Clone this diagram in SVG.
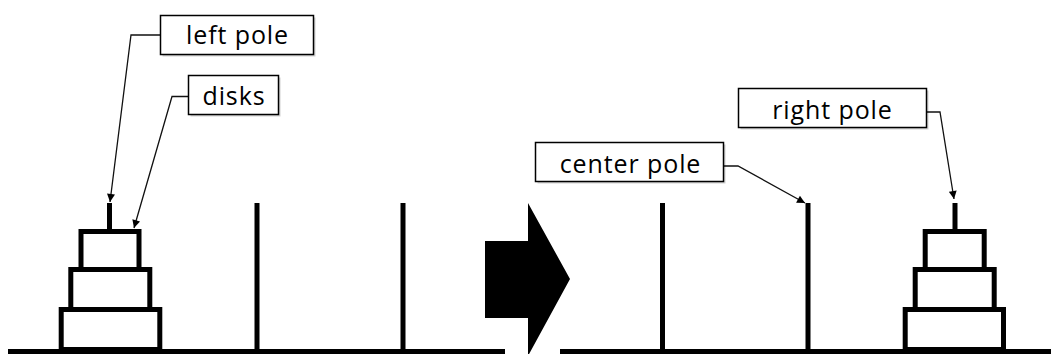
<svg xmlns="http://www.w3.org/2000/svg" width="1051" height="354" viewBox="0 0 1051 354">
<style>
.box{fill:#fff;stroke:#000;stroke-width:1.5}
.shadow{fill:#000;opacity:0.18}
.lbl{font-family:"Open Sans","Liberation Sans",sans-serif;font-size:25px;letter-spacing:0.9px;fill:#000;text-anchor:middle}
.pole{stroke:#000;stroke-width:5;fill:none}
.disk{fill:#fff;stroke:#000;stroke-width:5}
.conn{fill:none;stroke:#111;stroke-width:1.3;marker-end:url(#ah)}
</style>
<defs>
<marker id="ah" viewBox="0 0 10 10" refX="10" refY="5" markerWidth="9" markerHeight="8" markerUnits="userSpaceOnUse" orient="auto">
<path d="M0,0 L10,5 L0,10 z" fill="#000"/>
</marker>
</defs>
<g id="ground">
<rect x="8" y="349" width="497" height="5" fill="#000"/>
<rect x="560" y="349" width="491" height="5" fill="#000"/>
</g>
<g id="left-tower">
<line class="pole" x1="109.5" y1="203" x2="109.5" y2="232"/>
<rect class="disk" x="61.2" y="309.5" width="98.6" height="40"/>
<rect class="disk" x="70.8" y="269.5" width="79" height="40"/>
<rect class="disk" x="81" y="231.5" width="58" height="38"/>
</g>
<g id="left-poles">
<line class="pole" x1="257" y1="203" x2="257" y2="350"/>
<line class="pole" x1="403" y1="203" x2="403" y2="350"/>
</g>
<g id="arrow">
<polygon points="485,241 528,241 528,203 570,279 528,356 528,318 485,318" fill="#000"/>
</g>
<g id="right-poles">
<line class="pole" x1="662.5" y1="203" x2="662.5" y2="350"/>
<line class="pole" x1="808" y1="203" x2="808" y2="350"/>
</g>
<g id="right-tower">
<line class="pole" x1="955" y1="203" x2="955" y2="232"/>
<rect class="disk" x="905.2" y="309.5" width="98.3" height="40"/>
<rect class="disk" x="915.2" y="269.5" width="79" height="40"/>
<rect class="disk" x="925.2" y="231.5" width="59" height="38"/>
</g>
<g id="connectors">
<polyline class="conn" points="160,35 131,35 110,202"/>
<polyline class="conn" points="188,96.5 172,96.5 134,228"/>
<polyline class="conn" points="723,166 738,166 805,203"/>
<polyline class="conn" points="926,112 940,112 954,199"/>
</g>
<g id="label-left-pole">
<rect class="shadow" x="162.5" y="17.5" width="153" height="39"/>
<rect class="box" x="160.5" y="15.5" width="153" height="39"/>
<text class="lbl" x="237.5" y="44">left pole</text>
</g>
<g id="label-disks">
<rect class="shadow" x="190.5" y="77.5" width="90" height="39"/>
<rect class="box" x="188.5" y="75.5" width="90" height="39"/>
<text class="lbl" x="234" y="104.5">disks</text>
</g>
<g id="label-center-pole">
<rect class="shadow" x="537.5" y="144.5" width="188" height="39"/>
<rect class="box" x="535.5" y="142.5" width="188" height="39"/>
<text class="lbl" x="630.5" y="172.5">center pole</text>
</g>
<g id="label-right-pole">
<rect class="shadow" x="740.5" y="90.5" width="188" height="39"/>
<rect class="box" x="738.5" y="88.5" width="188" height="39"/>
<text class="lbl" x="832.5" y="118.5">right pole</text>
</g>
</svg>
